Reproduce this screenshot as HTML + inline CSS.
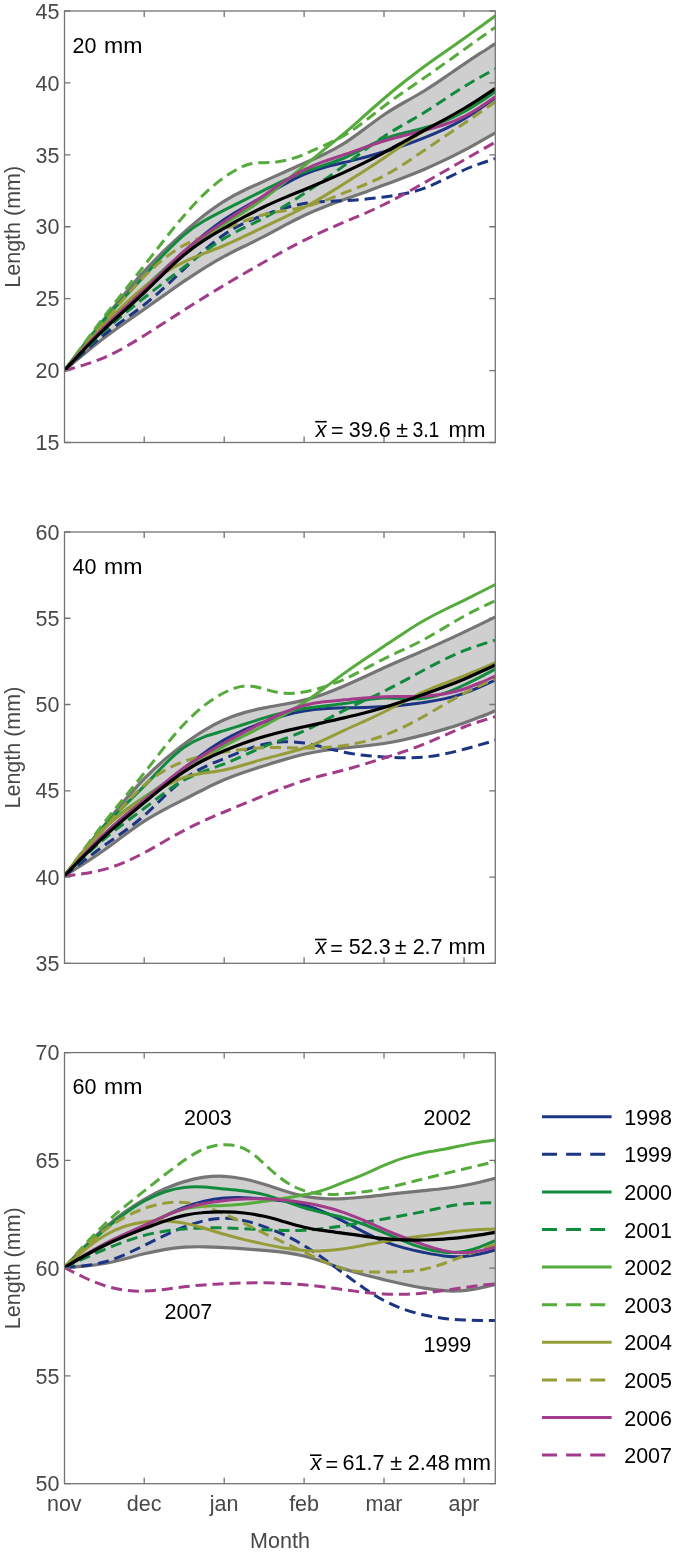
<!DOCTYPE html><html><head><meta charset="utf-8"><style>html,body{margin:0;padding:0;background:#fff;overflow:hidden;}svg{display:block;will-change:transform;}text{font-family:"Liberation Sans",sans-serif;}</style></head><body>
<svg width="675" height="1553" viewBox="0 0 675 1553">
<rect width="675" height="1553" fill="#fff"/>
<clipPath id="c0"><rect x="64.5" y="11.0" width="430.8" height="431.5"/></clipPath>
<g clip-path="url(#c0)">
<path d="M64.3,370.6 C71.0,361.9 77.6,353.2 84.3,344.5 C91.0,335.9 97.6,327.3 104.3,318.9 C111.0,310.5 117.6,302.2 124.3,294.2 C131.0,286.2 137.6,278.5 144.3,271.2 C151.0,264.0 157.6,257.2 164.2,250.7 C170.9,244.2 177.5,238.1 184.2,232.2 C190.9,226.3 197.5,220.6 204.2,215.3 C210.9,210.1 217.5,205.3 224.2,201.1 C230.9,196.9 237.5,193.4 244.2,190.2 C250.9,187.0 257.5,184.1 264.2,181.1 C270.8,178.1 277.5,175.2 284.1,172.2 C290.8,169.2 297.4,166.2 304.1,163.3 C310.8,160.4 317.4,157.5 324.1,154.3 C330.8,151.1 337.4,147.6 344.1,143.4 C350.8,139.2 357.4,134.2 364.1,129.2 C370.7,124.2 377.4,119.2 384.0,114.7 C390.7,110.2 397.3,106.3 404.0,102.5 C410.7,98.8 417.3,95.1 424.0,91.0 C430.7,86.9 437.3,82.5 444.0,77.9 C450.7,73.3 457.3,68.6 464.0,64.1 C469.2,60.6 474.4,57.1 479.6,53.7 C484.9,50.4 490.1,47.0 495.3,43.7 L495.3,132.8 C490.1,135.8 484.9,138.8 479.6,141.8 C474.4,144.7 469.2,147.6 464.0,150.4 C457.3,153.9 450.7,157.3 444.0,160.4 C437.3,163.6 430.7,166.6 424.0,169.4 C417.3,172.2 410.7,174.9 404.0,177.5 C397.3,180.1 390.7,182.6 384.0,185.1 C377.4,187.6 370.7,190.0 364.1,192.4 C357.4,194.8 350.8,197.2 344.1,199.6 C337.4,202.0 330.8,204.4 324.1,207.0 C317.4,209.6 310.8,212.4 304.1,215.5 C297.4,218.6 290.8,222.2 284.1,225.7 C277.5,229.3 270.8,233.0 264.2,236.4 C257.5,239.8 250.9,243.0 244.2,246.3 C237.5,249.5 230.9,252.8 224.2,256.4 C217.5,260.0 210.9,263.9 204.2,268.1 C197.5,272.3 190.9,276.7 184.2,281.2 C177.5,285.7 170.9,290.4 164.2,295.1 C157.6,299.8 151.0,304.5 144.3,309.2 C137.6,313.9 131.0,318.5 124.3,323.2 C117.6,327.9 111.0,332.7 104.3,337.8 C97.6,342.9 91.0,348.3 84.3,353.8 C77.6,359.3 71.0,364.9 64.3,370.6 Z" fill="#cfcfcf"/>
<path d="M64.3,370.6 C71.0,361.9 77.6,353.2 84.3,344.5 C91.0,335.9 97.6,327.3 104.3,318.9 C111.0,310.5 117.6,302.2 124.3,294.2 C131.0,286.2 137.6,278.5 144.3,271.2 C151.0,264.0 157.6,257.2 164.2,250.7 C170.9,244.2 177.5,238.1 184.2,232.2 C190.9,226.3 197.5,220.6 204.2,215.3 C210.9,210.1 217.5,205.3 224.2,201.1 C230.9,196.9 237.5,193.4 244.2,190.2 C250.9,187.0 257.5,184.1 264.2,181.1 C270.8,178.1 277.5,175.2 284.1,172.2 C290.8,169.2 297.4,166.2 304.1,163.3 C310.8,160.4 317.4,157.5 324.1,154.3 C330.8,151.1 337.4,147.6 344.1,143.4 C350.8,139.2 357.4,134.2 364.1,129.2 C370.7,124.2 377.4,119.2 384.0,114.7 C390.7,110.2 397.3,106.3 404.0,102.5 C410.7,98.8 417.3,95.1 424.0,91.0 C430.7,86.9 437.3,82.5 444.0,77.9 C450.7,73.3 457.3,68.6 464.0,64.1 C469.2,60.6 474.4,57.1 479.6,53.7 C484.9,50.4 490.1,47.0 495.3,43.7" fill="none" stroke="#757575" stroke-width="3.2"/>
<path d="M64.3,370.6 C71.0,364.9 77.6,359.3 84.3,353.8 C91.0,348.3 97.6,342.9 104.3,337.8 C111.0,332.7 117.6,327.9 124.3,323.2 C131.0,318.5 137.6,313.9 144.3,309.2 C151.0,304.5 157.6,299.8 164.2,295.1 C170.9,290.4 177.5,285.7 184.2,281.2 C190.9,276.7 197.5,272.3 204.2,268.1 C210.9,263.9 217.5,260.0 224.2,256.4 C230.9,252.8 237.5,249.5 244.2,246.3 C250.9,243.0 257.5,239.8 264.2,236.4 C270.8,233.0 277.5,229.3 284.1,225.7 C290.8,222.2 297.4,218.6 304.1,215.5 C310.8,212.4 317.4,209.6 324.1,207.0 C330.8,204.4 337.4,202.0 344.1,199.6 C350.8,197.2 357.4,194.8 364.1,192.4 C370.7,190.0 377.4,187.6 384.0,185.1 C390.7,182.6 397.3,180.1 404.0,177.5 C410.7,174.9 417.3,172.2 424.0,169.4 C430.7,166.6 437.3,163.6 444.0,160.4 C450.7,157.3 457.3,153.9 464.0,150.4 C469.2,147.6 474.4,144.7 479.6,141.8 C484.9,138.8 490.1,135.8 495.3,132.8" fill="none" stroke="#757575" stroke-width="3.2"/>
<path d="M64.3,370.6 C71.0,363.0 77.6,355.4 84.3,348.1 C91.0,340.7 97.6,333.6 104.3,327.0 C111.0,320.4 117.6,314.2 124.3,308.2 C131.0,302.1 137.6,296.2 144.3,290.0 C151.0,283.8 157.6,277.4 164.2,271.0 C170.9,264.6 177.5,258.1 184.2,252.0 C190.9,245.8 197.5,239.9 204.2,234.5 C210.9,229.0 217.5,223.9 224.2,219.4 C230.9,214.9 237.5,210.9 244.2,207.2 C250.9,203.4 257.5,199.8 264.2,196.0 C270.8,192.2 277.5,188.2 284.1,184.4 C290.8,180.7 297.4,177.1 304.1,174.3 C310.8,171.5 317.4,169.3 324.1,167.5 C330.8,165.6 337.4,164.1 344.1,162.5 C350.8,160.9 357.4,159.2 364.1,157.5 C370.7,155.7 377.4,153.8 384.0,151.8 C390.7,149.8 397.3,147.6 404.0,145.3 C410.7,143.0 417.3,140.5 424.0,137.9 C430.7,135.3 437.3,132.5 444.0,129.4 C450.7,126.4 457.3,122.9 464.0,119.0 C469.2,115.9 474.4,112.5 479.6,109.0 C484.9,105.4 490.1,101.7 495.3,98.0" fill="none" stroke="#1c3582" stroke-width="3.0"/>
<path d="M64.3,370.6 C71.0,364.3 77.6,357.9 84.3,351.8 C91.0,345.8 97.6,339.9 104.3,334.6 C111.0,329.3 117.6,324.5 124.3,319.6 C131.0,314.8 137.6,310.0 144.3,304.7 C151.0,299.4 157.6,293.6 164.2,287.6 C170.9,281.5 177.5,275.2 184.2,268.9 C190.9,262.6 197.5,256.2 204.2,250.4 C210.9,244.5 217.5,239.0 224.2,234.5 C230.9,230.0 237.5,226.3 244.2,223.2 C250.9,220.1 257.5,217.5 264.2,215.0 C270.8,212.5 277.5,210.2 284.1,208.3 C290.8,206.3 297.4,204.7 304.1,203.6 C310.8,202.5 317.4,202.0 324.1,201.6 C330.8,201.2 337.4,201.0 344.1,200.7 C350.8,200.4 357.4,199.9 364.1,199.2 C370.7,198.6 377.4,197.9 384.0,197.0 C390.7,196.1 397.3,195.2 404.0,193.8 C410.7,192.5 417.3,190.7 424.0,188.3 C430.7,185.9 437.3,182.7 444.0,179.5 C450.7,176.3 457.3,172.9 464.0,170.0 C469.2,167.7 474.4,165.7 479.6,163.9 C484.9,162.0 490.1,160.3 495.3,158.6" fill="none" stroke="#1c3582" stroke-width="3.0" stroke-dasharray="11.1 5.9"/>
<path d="M64.3,370.6 C71.0,361.9 77.6,353.1 84.3,344.6 C91.0,336.1 97.6,327.8 104.3,320.0 C111.0,312.2 117.6,304.8 124.3,297.6 C131.0,290.4 137.6,283.3 144.3,276.0 C151.0,268.7 157.6,261.2 164.2,254.1 C170.9,247.0 177.5,240.4 184.2,234.8 C190.9,229.2 197.5,224.7 204.2,220.8 C210.9,216.8 217.5,213.5 224.2,210.1 C230.9,206.7 237.5,203.4 244.2,200.1 C250.9,196.7 257.5,193.4 264.2,190.1 C270.8,186.8 277.5,183.5 284.1,180.4 C290.8,177.3 297.4,174.5 304.1,172.0 C310.8,169.5 317.4,167.5 324.1,165.3 C330.8,163.1 337.4,160.9 344.1,158.0 C350.8,155.1 357.4,151.7 364.1,148.3 C370.7,144.9 377.4,141.6 384.0,139.0 C390.7,136.4 397.3,134.6 404.0,132.9 C410.7,131.3 417.3,129.8 424.0,128.0 C430.7,126.2 437.3,124.0 444.0,121.3 C450.7,118.6 457.3,115.5 464.0,111.8 C469.2,108.9 474.4,105.6 479.6,102.2 C484.9,98.8 490.1,95.2 495.3,91.6" fill="none" stroke="#128a3e" stroke-width="3.0"/>
<path d="M64.3,370.6 C71.0,363.7 77.6,356.9 84.3,350.2 C91.0,343.6 97.6,337.1 104.3,331.0 C111.0,324.9 117.6,319.2 124.3,313.7 C131.0,308.2 137.6,302.9 144.3,297.7 C151.0,292.5 157.6,287.4 164.2,282.3 C170.9,277.2 177.5,272.1 184.2,267.0 C190.9,261.9 197.5,256.7 204.2,251.9 C210.9,247.0 217.5,242.4 224.2,238.4 C230.9,234.4 237.5,231.0 244.2,227.7 C250.9,224.5 257.5,221.3 264.2,217.8 C270.8,214.3 277.5,210.5 284.1,206.4 C290.8,202.3 297.4,198.0 304.1,193.6 C310.8,189.2 317.4,184.7 324.1,180.0 C330.8,175.4 337.4,170.6 344.1,165.6 C350.8,160.6 357.4,155.5 364.1,150.5 C370.7,145.6 377.4,140.7 384.0,136.4 C390.7,132.0 397.3,128.2 404.0,124.3 C410.7,120.5 417.3,116.8 424.0,112.7 C430.7,108.6 437.3,104.2 444.0,99.7 C450.7,95.3 457.3,90.8 464.0,86.7 C469.2,83.5 474.4,80.4 479.6,77.5 C484.9,74.6 490.1,71.7 495.3,68.9" fill="none" stroke="#128a3e" stroke-width="3.0" stroke-dasharray="11.1 5.9"/>
<path d="M64.3,370.6 C71.0,362.4 77.6,354.2 84.3,346.3 C91.0,338.5 97.6,330.9 104.3,324.0 C111.0,317.1 117.6,310.8 124.3,304.8 C131.0,298.7 137.6,292.9 144.3,287.0 C151.0,281.1 157.6,275.0 164.2,269.0 C170.9,263.1 177.5,257.3 184.2,252.0 C190.9,246.7 197.5,241.8 204.2,237.2 C210.9,232.6 217.5,228.3 224.2,224.2 C230.9,220.1 237.5,216.0 244.2,211.9 C250.9,207.7 257.5,203.3 264.2,198.4 C270.8,193.5 277.5,188.1 284.1,182.6 C290.8,177.1 297.4,171.4 304.1,165.9 C310.8,160.4 317.4,155.1 324.1,149.7 C330.8,144.4 337.4,139.0 344.1,133.4 C350.8,127.8 357.4,121.9 364.1,116.0 C370.7,110.1 377.4,104.2 384.0,98.5 C390.7,92.8 397.3,87.3 404.0,82.0 C410.7,76.7 417.3,71.6 424.0,66.7 C430.7,61.8 437.3,57.1 444.0,52.5 C450.7,47.8 457.3,43.2 464.0,38.5 C469.2,34.8 474.4,31.0 479.6,27.3 C484.9,23.5 490.1,19.6 495.3,15.8" fill="none" stroke="#55ab3c" stroke-width="3.0"/>
<path d="M64.3,370.6 C71.0,361.4 77.6,352.3 84.3,343.2 C91.0,334.2 97.6,325.2 104.3,316.5 C111.0,307.8 117.6,299.3 124.3,290.9 C131.0,282.4 137.6,274.0 144.3,265.5 C151.0,257.0 157.6,248.4 164.2,239.9 C170.9,231.5 177.5,223.2 184.2,215.5 C188.2,210.9 192.2,206.4 196.1,202.2 C200.1,198.0 204.1,194.1 208.1,190.4 C210.3,188.4 212.6,186.4 214.8,184.6 C217.0,182.7 219.3,181.0 221.5,179.3 C223.9,177.5 226.3,175.9 228.7,174.3 C231.1,172.8 233.5,171.3 235.9,170.0 C238.2,168.7 240.6,167.5 242.9,166.4 C245.3,165.4 247.7,164.6 250.0,164.0 C253.2,163.2 256.4,162.9 259.6,162.8 C262.8,162.7 266.0,162.7 269.2,162.6 C272.1,162.5 274.9,162.2 277.8,161.8 C280.6,161.4 283.4,160.9 286.3,160.2 C289.0,159.6 291.7,158.8 294.4,157.9 C297.0,157.1 299.7,156.1 302.4,155.0 C304.7,154.1 307.1,153.0 309.4,152.0 C311.7,150.9 314.1,149.8 316.4,148.8 C321.0,146.7 325.6,144.8 330.2,142.6 C334.9,140.5 339.5,138.2 344.1,135.5 C350.8,131.6 357.4,126.8 364.1,121.7 C370.7,116.6 377.4,111.3 384.0,106.2 C390.7,101.1 397.3,96.4 404.0,91.8 C410.7,87.1 417.3,82.6 424.0,78.0 C430.7,73.4 437.3,68.7 444.0,63.9 C450.7,59.2 457.3,54.4 464.0,49.6 C469.2,45.9 474.4,42.1 479.6,38.4 C484.9,34.7 490.1,30.9 495.3,27.2" fill="none" stroke="#55ab3c" stroke-width="3.0" stroke-dasharray="11.1 5.9"/>
<path d="M64.3,370.6 C71.0,362.8 77.6,354.9 84.3,347.3 C91.0,339.6 97.6,332.1 104.3,325.0 C111.0,317.9 117.6,311.1 124.3,304.8 C131.0,298.5 137.6,292.6 144.3,287.3 C151.0,282.0 157.6,277.2 164.2,273.0 C170.9,268.7 177.5,265.0 184.2,261.8 C190.9,258.6 197.5,255.9 204.2,253.3 C210.9,250.8 217.5,248.3 224.2,245.5 C230.9,242.7 237.5,239.6 244.2,236.4 C250.9,233.3 257.5,230.0 264.2,226.8 C270.8,223.6 277.5,220.6 284.1,217.4 C290.8,214.3 297.4,211.0 304.1,207.5 C310.8,203.9 317.4,200.1 324.1,196.1 C330.8,192.0 337.4,187.9 344.1,183.7 C350.8,179.5 357.4,175.4 364.1,171.1 C370.7,166.9 377.4,162.5 384.0,158.0 C390.7,153.4 397.3,148.7 404.0,144.1 C410.7,139.5 417.3,135.0 424.0,131.0 C430.7,127.0 437.3,123.5 444.0,120.0 C450.7,116.5 457.3,113.0 464.0,109.0 C469.2,105.9 474.4,102.5 479.6,98.9 C484.9,95.4 490.1,91.7 495.3,88.0" fill="none" stroke="#969c38" stroke-width="3.0"/>
<path d="M64.3,370.6 C71.0,362.5 77.6,354.4 84.3,346.3 C91.0,338.2 97.6,330.1 104.3,322.0 C111.0,313.9 117.6,305.9 124.3,298.2 C131.0,290.5 137.6,283.1 144.3,276.4 C151.0,269.7 157.6,263.7 164.2,258.5 C170.9,253.2 177.5,248.7 184.2,245.1 C190.9,241.5 197.5,238.7 204.2,236.2 C210.9,233.7 217.5,231.5 224.2,229.0 C230.9,226.5 237.5,223.7 244.2,221.2 C250.9,218.6 257.5,216.2 264.2,214.5 C270.8,212.8 277.5,211.7 284.1,210.7 C290.8,209.7 297.4,208.7 304.1,207.1 C310.8,205.5 317.4,203.3 324.1,200.8 C330.8,198.3 337.4,195.5 344.1,192.9 C350.8,190.3 357.4,187.7 364.1,185.0 C370.7,182.3 377.4,179.3 384.0,175.8 C390.7,172.3 397.3,168.2 404.0,163.9 C410.7,159.6 417.3,155.0 424.0,150.5 C430.7,146.0 437.3,141.5 444.0,137.0 C450.7,132.4 457.3,127.9 464.0,123.4 C469.2,119.8 474.4,116.3 479.6,112.7 C484.9,109.1 490.1,105.5 495.3,101.9" fill="none" stroke="#969c38" stroke-width="3.0" stroke-dasharray="11.1 5.9"/>
<path d="M64.3,370.6 C71.0,363.0 77.6,355.4 84.3,348.0 C91.0,340.7 97.6,333.6 104.3,327.0 C111.0,320.4 117.6,314.4 124.3,308.3 C131.0,302.3 137.6,296.3 144.3,289.9 C151.0,283.5 157.6,276.7 164.2,270.0 C170.9,263.3 177.5,256.7 184.2,250.9 C190.9,245.1 197.5,239.9 204.2,235.2 C210.9,230.4 217.5,226.1 224.2,221.7 C230.9,217.3 237.5,213.0 244.2,208.6 C250.9,204.2 257.5,199.8 264.2,195.2 C270.8,190.6 277.5,186.0 284.1,181.6 C290.8,177.2 297.4,173.2 304.1,169.8 C310.8,166.4 317.4,163.8 324.1,161.4 C330.8,159.0 337.4,157.0 344.1,154.7 C350.8,152.5 357.4,150.0 364.1,147.7 C370.7,145.3 377.4,143.0 384.0,141.0 C390.7,139.0 397.3,137.2 404.0,135.5 C410.7,133.8 417.3,132.2 424.0,130.5 C430.7,128.8 437.3,127.0 444.0,124.8 C450.7,122.6 457.3,120.0 464.0,116.6 C469.2,113.9 474.4,110.8 479.6,107.4 C484.9,104.0 490.1,100.4 495.3,96.8" fill="none" stroke="#a23c8a" stroke-width="3.0"/>
<path d="M64.3,370.6 C71.0,368.8 77.6,367.0 84.3,364.9 C91.0,362.8 97.6,360.5 104.3,357.6 C111.0,354.7 117.6,351.3 124.3,347.5 C131.0,343.7 137.6,339.7 144.3,335.5 C151.0,331.3 157.6,327.1 164.2,322.8 C170.9,318.5 177.5,314.2 184.2,310.0 C190.9,305.7 197.5,301.5 204.2,297.4 C210.9,293.3 217.5,289.2 224.2,285.2 C230.9,281.2 237.5,277.3 244.2,273.5 C250.9,269.6 257.5,265.8 264.2,262.0 C270.8,258.2 277.5,254.5 284.1,250.8 C290.8,247.2 297.4,243.6 304.1,240.3 C310.8,237.0 317.4,233.9 324.1,230.9 C330.8,227.9 337.4,225.0 344.1,222.2 C350.8,219.4 357.4,216.6 364.1,213.7 C370.7,210.8 377.4,207.8 384.0,204.5 C390.7,201.2 397.3,197.7 404.0,194.1 C410.7,190.5 417.3,186.7 424.0,182.9 C430.7,179.1 437.3,175.3 444.0,171.5 C450.7,167.7 457.3,163.8 464.0,160.0 C469.2,157.0 474.4,154.0 479.6,151.0 C484.9,148.1 490.1,145.1 495.3,142.1" fill="none" stroke="#a23c8a" stroke-width="3.0" stroke-dasharray="11.1 5.9"/>
<path d="M64.3,370.6 C71.0,363.4 77.6,356.3 84.3,349.3 C91.0,342.4 97.6,335.6 104.3,329.2 C111.0,322.8 117.6,316.8 124.3,310.8 C131.0,304.8 137.6,298.8 144.3,292.5 C151.0,286.2 157.6,279.5 164.2,273.0 C170.9,266.6 177.5,260.3 184.2,254.8 C190.9,249.3 197.5,244.5 204.2,240.2 C210.9,235.8 217.5,231.9 224.2,228.1 C230.9,224.3 237.5,220.5 244.2,216.9 C250.9,213.4 257.5,210.0 264.2,206.8 C270.8,203.6 277.5,200.7 284.1,197.9 C290.8,195.1 297.4,192.4 304.1,189.7 C310.8,187.0 317.4,184.2 324.1,181.3 C330.8,178.4 337.4,175.5 344.1,172.4 C350.8,169.3 357.4,166.2 364.1,162.9 C370.7,159.6 377.4,156.2 384.0,152.6 C390.7,149.0 397.3,145.3 404.0,141.6 C410.7,137.9 417.3,134.1 424.0,130.5 C430.7,126.9 437.3,123.4 444.0,119.8 C450.7,116.2 457.3,112.5 464.0,108.5 C469.2,105.4 474.4,102.1 479.6,98.8 C484.9,95.4 490.1,91.9 495.3,88.5" fill="none" stroke="#000" stroke-width="3.2"/>
</g>
<rect x="64.5" y="11.0" width="430.8" height="431.5" fill="none" stroke="#747474" stroke-width="1.3"/>
<text x="59.5" y="450.20" font-size="21.5" fill="#474747" text-anchor="end">15</text>
<text x="59.5" y="378.28" font-size="21.5" fill="#474747" text-anchor="end">20</text>
<text x="59.5" y="306.37" font-size="21.5" fill="#474747" text-anchor="end">25</text>
<text x="59.5" y="234.45" font-size="21.5" fill="#474747" text-anchor="end">30</text>
<text x="59.5" y="162.53" font-size="21.5" fill="#474747" text-anchor="end">35</text>
<text x="59.5" y="90.62" font-size="21.5" fill="#474747" text-anchor="end">40</text>
<text x="59.5" y="18.70" font-size="21.5" fill="#474747" text-anchor="end">45</text>
<path d="M64.5,442.50h6M495.3,442.50h-6M64.5,370.58h6M495.3,370.58h-6M64.5,298.67h6M495.3,298.67h-6M64.5,226.75h6M495.3,226.75h-6M64.5,154.83h6M495.3,154.83h-6M64.5,82.92h6M495.3,82.92h-6M64.5,11.00h6M495.3,11.00h-6M144.2,442.5v-6M144.2,11.0v6M224.2,442.5v-6M224.2,11.0v6M304.1,442.5v-6M304.1,11.0v6M384.0,442.5v-6M384.0,11.0v6M464.0,442.5v-6M464.0,11.0v6" stroke="#747474" stroke-width="1.3" fill="none"/>
<text transform="translate(19.5,226.8) rotate(-90)" font-size="21.5" fill="#474747" text-anchor="middle">Length (mm)</text>
<text x="72.5" y="52.8" font-size="21.5" fill="#000">20</text>
<text x="104" y="52.8" font-size="21.5" fill="#000" textLength="38.5" lengthAdjust="spacingAndGlyphs">mm</text>
<text x="321.2" y="436.5" font-size="21.5" fill="#000" text-anchor="middle" font-style="italic">x</text>
<text x="337.3" y="436.5" font-size="21.5" fill="#000" text-anchor="middle" dy="1.8">=</text>
<text x="369.8" y="436.5" font-size="21.5" fill="#000" text-anchor="middle">39.6</text>
<text x="402.1" y="436.5" font-size="21.5" fill="#000" text-anchor="middle">±</text>
<text x="425.9" y="436.5" font-size="21.5" fill="#000" text-anchor="middle" textLength="27" lengthAdjust="spacingAndGlyphs">3.1</text>
<text x="467.0" y="436.5" font-size="21.5" fill="#000" text-anchor="middle" textLength="37" lengthAdjust="spacingAndGlyphs">mm</text>
<path d="M315.2,421.7h11.5" stroke="#000" stroke-width="1.6"/>
<clipPath id="c1"><rect x="64.5" y="532.0" width="430.8" height="431.3"/></clipPath>
<g clip-path="url(#c1)">
<path d="M64.3,876.0 C71.0,867.5 77.6,859.0 84.3,850.5 C91.0,842.0 97.6,833.6 104.3,825.3 C111.0,817.0 117.6,808.8 124.3,800.9 C131.0,793.1 137.6,785.6 144.3,778.7 C151.0,771.9 157.6,765.6 164.2,759.9 C170.9,754.2 177.5,748.9 184.2,744.0 C190.9,739.1 197.5,734.5 204.2,730.4 C210.9,726.3 217.5,722.8 224.2,719.8 C230.9,716.8 237.5,714.5 244.2,712.6 C250.9,710.7 257.5,709.2 264.2,707.9 C270.8,706.6 277.5,705.5 284.1,704.3 C290.8,703.1 297.4,701.8 304.1,700.1 C310.8,698.4 317.4,696.3 324.1,693.9 C330.8,691.5 337.4,688.9 344.1,686.0 C350.8,683.1 357.4,680.1 364.1,677.0 C370.7,673.9 377.4,670.8 384.0,667.8 C390.7,664.8 397.3,661.9 404.0,659.0 C410.7,656.2 417.3,653.3 424.0,650.4 C430.7,647.5 437.3,644.5 444.0,641.4 C450.7,638.4 457.3,635.3 464.0,632.1 C469.2,629.6 474.4,627.1 479.6,624.6 C484.9,622.0 490.1,619.5 495.3,616.9 L495.3,710.8 C490.1,712.9 484.9,715.1 479.6,717.1 C474.4,719.2 469.2,721.2 464.0,723.0 C457.3,725.4 450.7,727.5 444.0,729.4 C437.3,731.4 430.7,733.2 424.0,734.9 C417.3,736.6 410.7,738.2 404.0,739.7 C397.3,741.2 390.7,742.5 384.0,743.5 C377.4,744.5 370.7,745.3 364.1,746.0 C357.4,746.7 350.8,747.3 344.1,748.0 C337.4,748.7 330.8,749.5 324.1,750.5 C317.4,751.5 310.8,752.7 304.1,754.2 C297.4,755.7 290.8,757.6 284.1,759.6 C277.5,761.5 270.8,763.7 264.2,765.8 C257.5,767.9 250.9,770.0 244.2,772.3 C237.5,774.5 230.9,777.0 224.2,779.8 C217.5,782.6 210.9,785.8 204.2,789.2 C197.5,792.5 190.9,796.0 184.2,799.4 C177.5,802.8 170.9,806.1 164.2,809.6 C157.6,813.2 151.0,816.9 144.3,821.2 C137.6,825.5 131.0,830.3 124.3,835.3 C117.6,840.2 111.0,845.3 104.3,850.0 C97.6,854.7 91.0,859.2 84.3,863.5 C77.6,867.7 71.0,871.9 64.3,876.0 Z" fill="#cfcfcf"/>
<path d="M64.3,876.0 C71.0,867.5 77.6,859.0 84.3,850.5 C91.0,842.0 97.6,833.6 104.3,825.3 C111.0,817.0 117.6,808.8 124.3,800.9 C131.0,793.1 137.6,785.6 144.3,778.7 C151.0,771.9 157.6,765.6 164.2,759.9 C170.9,754.2 177.5,748.9 184.2,744.0 C190.9,739.1 197.5,734.5 204.2,730.4 C210.9,726.3 217.5,722.8 224.2,719.8 C230.9,716.8 237.5,714.5 244.2,712.6 C250.9,710.7 257.5,709.2 264.2,707.9 C270.8,706.6 277.5,705.5 284.1,704.3 C290.8,703.1 297.4,701.8 304.1,700.1 C310.8,698.4 317.4,696.3 324.1,693.9 C330.8,691.5 337.4,688.9 344.1,686.0 C350.8,683.1 357.4,680.1 364.1,677.0 C370.7,673.9 377.4,670.8 384.0,667.8 C390.7,664.8 397.3,661.9 404.0,659.0 C410.7,656.2 417.3,653.3 424.0,650.4 C430.7,647.5 437.3,644.5 444.0,641.4 C450.7,638.4 457.3,635.3 464.0,632.1 C469.2,629.6 474.4,627.1 479.6,624.6 C484.9,622.0 490.1,619.5 495.3,616.9" fill="none" stroke="#757575" stroke-width="3.2"/>
<path d="M64.3,876.0 C71.0,871.9 77.6,867.7 84.3,863.5 C91.0,859.2 97.6,854.7 104.3,850.0 C111.0,845.3 117.6,840.2 124.3,835.3 C131.0,830.3 137.6,825.5 144.3,821.2 C151.0,816.9 157.6,813.2 164.2,809.6 C170.9,806.1 177.5,802.8 184.2,799.4 C190.9,796.0 197.5,792.5 204.2,789.2 C210.9,785.8 217.5,782.6 224.2,779.8 C230.9,777.0 237.5,774.5 244.2,772.3 C250.9,770.0 257.5,767.9 264.2,765.8 C270.8,763.7 277.5,761.5 284.1,759.6 C290.8,757.6 297.4,755.7 304.1,754.2 C310.8,752.7 317.4,751.5 324.1,750.5 C330.8,749.5 337.4,748.7 344.1,748.0 C350.8,747.3 357.4,746.7 364.1,746.0 C370.7,745.3 377.4,744.5 384.0,743.5 C390.7,742.5 397.3,741.2 404.0,739.7 C410.7,738.2 417.3,736.6 424.0,734.9 C430.7,733.2 437.3,731.4 444.0,729.4 C450.7,727.5 457.3,725.4 464.0,723.0 C469.2,721.2 474.4,719.2 479.6,717.1 C484.9,715.1 490.1,712.9 495.3,710.8" fill="none" stroke="#757575" stroke-width="3.2"/>
<path d="M64.3,876.0 C71.0,868.7 77.6,861.3 84.3,854.2 C91.0,847.2 97.6,840.3 104.3,834.0 C111.0,827.7 117.6,821.9 124.3,816.3 C131.0,810.7 137.6,805.4 144.3,800.0 C151.0,794.6 157.6,789.2 164.2,783.9 C170.9,778.5 177.5,773.2 184.2,768.0 C190.9,762.8 197.5,757.7 204.2,752.9 C210.9,748.2 217.5,743.8 224.2,739.9 C230.9,736.0 237.5,732.8 244.2,729.8 C250.9,726.9 257.5,724.4 264.2,722.0 C270.8,719.6 277.5,717.5 284.1,715.6 C290.8,713.7 297.4,712.1 304.1,711.0 C310.8,709.9 317.4,709.1 324.1,708.7 C330.8,708.2 337.4,708.0 344.1,707.8 C350.8,707.6 357.4,707.5 364.1,707.4 C370.7,707.2 377.4,707.0 384.0,706.6 C390.7,706.2 397.3,705.7 404.0,704.9 C410.7,704.2 417.3,703.4 424.0,702.4 C430.7,701.4 437.3,700.3 444.0,698.9 C450.7,697.5 457.3,695.7 464.0,693.4 C469.2,691.6 474.4,689.5 479.6,687.2 C484.9,684.9 490.1,682.5 495.3,680.0" fill="none" stroke="#1c3582" stroke-width="3.0"/>
<path d="M64.3,876.0 C71.0,870.8 77.6,865.5 84.3,860.4 C91.0,855.3 97.6,850.3 104.3,845.5 C111.0,840.7 117.6,836.1 124.3,831.3 C131.0,826.4 137.6,821.3 144.3,815.4 C151.0,809.5 157.6,802.9 164.2,796.5 C170.9,790.1 177.5,784.0 184.2,779.0 C190.9,774.0 197.5,770.3 204.2,767.1 C210.9,763.9 217.5,761.2 224.2,758.5 C230.9,755.8 237.5,753.0 244.2,750.4 C250.9,747.9 257.5,745.7 264.2,744.2 C270.8,742.7 277.5,741.9 284.1,741.7 C290.8,741.5 297.4,742.0 304.1,743.0 C310.8,744.0 317.4,745.6 324.1,747.3 C330.8,749.0 337.4,750.8 344.1,752.2 C350.8,753.6 357.4,754.6 364.1,755.3 C370.7,756.1 377.4,756.6 384.0,757.0 C390.7,757.4 397.3,757.8 404.0,757.8 C410.7,757.9 417.3,757.7 424.0,757.1 C430.7,756.5 437.3,755.4 444.0,754.1 C450.7,752.7 457.3,751.1 464.0,749.3 C469.2,747.9 474.4,746.4 479.6,744.9 C484.9,743.4 490.1,741.9 495.3,740.3" fill="none" stroke="#1c3582" stroke-width="3.0" stroke-dasharray="11.1 5.9"/>
<path d="M64.3,876.0 C71.0,867.2 77.6,858.3 84.3,849.9 C91.0,841.4 97.6,833.3 104.3,826.0 C111.0,818.7 117.6,812.1 124.3,805.6 C131.0,799.2 137.6,792.8 144.3,786.0 C151.0,779.2 157.6,771.8 164.2,765.0 C170.9,758.2 177.5,751.9 184.2,747.2 C190.9,742.5 197.5,739.3 204.2,736.8 C210.9,734.4 217.5,732.6 224.2,730.6 C230.9,728.6 237.5,726.4 244.2,724.3 C250.9,722.1 257.5,719.9 264.2,717.9 C270.8,715.9 277.5,714.1 284.1,712.5 C290.8,711.0 297.4,709.6 304.1,708.6 C310.8,707.6 317.4,706.8 324.1,706.1 C330.8,705.3 337.4,704.6 344.1,703.6 C350.8,702.6 357.4,701.3 364.1,700.2 C370.7,699.1 377.4,698.2 384.0,698.0 C390.7,697.8 397.3,698.2 404.0,698.6 C410.7,698.9 417.3,699.1 424.0,698.3 C430.7,697.5 437.3,695.8 444.0,693.4 C450.7,691.1 457.3,688.2 464.0,685.0 C469.2,682.5 474.4,679.9 479.6,677.3 C484.9,674.6 490.1,671.8 495.3,669.1" fill="none" stroke="#128a3e" stroke-width="3.0"/>
<path d="M64.3,876.0 C71.0,869.5 77.6,863.0 84.3,856.7 C91.0,850.4 97.6,844.4 104.3,838.8 C111.0,833.2 117.6,828.1 124.3,823.2 C131.0,818.2 137.6,813.4 144.3,808.3 C151.0,803.3 157.6,798.0 164.2,793.1 C170.9,788.2 177.5,783.6 184.2,780.0 C190.9,776.4 197.5,773.6 204.2,771.2 C210.9,768.7 217.5,766.5 224.2,763.9 C230.9,761.3 237.5,758.3 244.2,755.3 C250.9,752.3 257.5,749.2 264.2,746.5 C270.8,743.8 277.5,741.4 284.1,739.0 C290.8,736.5 297.4,734.0 304.1,731.0 C310.8,728.0 317.4,724.5 324.1,720.9 C330.8,717.4 337.4,713.7 344.1,710.3 C350.8,706.9 357.4,703.8 364.1,700.7 C370.7,697.6 377.4,694.6 384.0,691.3 C390.7,688.0 397.3,684.5 404.0,680.9 C410.7,677.3 417.3,673.6 424.0,670.0 C430.7,666.4 437.3,662.9 444.0,659.6 C450.7,656.4 457.3,653.4 464.0,650.7 C469.2,648.6 474.4,646.8 479.6,645.1 C484.9,643.3 490.1,641.7 495.3,640.1" fill="none" stroke="#128a3e" stroke-width="3.0" stroke-dasharray="11.1 5.9"/>
<path d="M64.3,876.0 C71.0,867.3 77.6,858.6 84.3,850.4 C91.0,842.2 97.6,834.6 104.3,828.0 C111.0,821.4 117.6,816.0 124.3,811.0 C131.0,806.0 137.6,801.5 144.3,797.0 C151.0,792.5 157.6,787.9 164.2,783.4 C170.9,778.8 177.5,774.3 184.2,770.0 C190.9,765.7 197.5,761.5 204.2,757.5 C210.9,753.5 217.5,749.7 224.2,746.1 C230.9,742.5 237.5,739.1 244.2,735.7 C250.9,732.4 257.5,729.0 264.2,725.6 C270.8,722.2 277.5,718.6 284.1,714.8 C290.8,711.0 297.4,707.0 304.1,702.5 C310.8,698.0 317.4,693.2 324.1,688.2 C330.8,683.3 337.4,678.2 344.1,673.4 C350.8,668.6 357.4,664.0 364.1,659.5 C370.7,655.1 377.4,650.7 384.0,646.2 C390.7,641.7 397.3,637.2 404.0,632.9 C410.7,628.5 417.3,624.3 424.0,620.5 C430.7,616.7 437.3,613.3 444.0,610.0 C450.7,606.7 457.3,603.6 464.0,600.3 C469.2,597.8 474.4,595.1 479.6,592.5 C484.9,589.9 490.1,587.2 495.3,584.5" fill="none" stroke="#55ab3c" stroke-width="3.0"/>
<path d="M64.3,876.0 C71.0,866.9 77.6,857.7 84.3,848.8 C91.0,839.8 97.6,831.0 104.3,822.5 C111.0,814.0 117.6,805.8 124.3,797.6 C131.0,789.5 137.6,781.3 144.3,772.9 C151.0,764.5 157.6,755.8 164.2,747.4 C170.9,739.1 177.5,731.1 184.2,724.0 C191.3,716.5 198.3,710.0 205.4,704.6 C212.5,699.2 219.5,694.8 226.6,691.5 C229.3,690.2 232.1,689.0 234.8,688.1 C237.6,687.3 240.3,686.6 243.1,686.3 C245.9,686.0 248.6,686.0 251.4,686.3 C254.2,686.6 256.9,687.1 259.7,687.8 C262.6,688.5 265.4,689.3 268.3,690.1 C271.2,690.9 274.0,691.6 276.9,692.2 C279.7,692.8 282.5,693.1 285.4,693.3 C288.2,693.5 291.0,693.5 293.8,693.3 C296.5,693.1 299.2,692.8 302.0,692.3 C304.7,691.9 307.4,691.3 310.1,690.7 C315.8,689.4 321.4,687.8 327.1,685.9 C332.8,684.0 338.4,681.8 344.1,679.3 C350.8,676.3 357.4,672.9 364.1,669.3 C370.7,665.8 377.4,662.1 384.0,658.8 C390.7,655.5 397.3,652.4 404.0,649.3 C410.7,646.2 417.3,643.1 424.0,639.5 C430.7,635.9 437.3,631.9 444.0,627.9 C450.7,623.9 457.3,619.9 464.0,616.2 C469.2,613.3 474.4,610.7 479.6,608.1 C484.9,605.6 490.1,603.1 495.3,600.7" fill="none" stroke="#55ab3c" stroke-width="3.0" stroke-dasharray="11.1 5.9"/>
<path d="M64.3,876.0 C71.0,867.3 77.6,858.7 84.3,850.5 C91.0,842.4 97.6,834.9 104.3,828.4 C111.0,821.9 117.6,816.6 124.3,811.8 C131.0,807.0 137.6,802.8 144.3,798.6 C151.0,794.4 157.6,790.2 164.2,786.6 C170.9,782.9 177.5,779.7 184.2,777.5 C190.9,775.3 197.5,774.1 204.2,773.1 C210.9,772.1 217.5,771.3 224.2,770.0 C230.9,768.7 237.5,766.8 244.2,764.8 C250.9,762.9 257.5,760.7 264.2,758.9 C270.8,757.1 277.5,755.5 284.1,753.8 C290.8,752.1 297.4,750.3 304.1,748.0 C310.8,745.7 317.4,742.8 324.1,739.8 C330.8,736.7 337.4,733.5 344.1,730.4 C350.8,727.3 357.4,724.4 364.1,721.4 C370.7,718.4 377.4,715.3 384.0,712.0 C390.7,708.7 397.3,705.1 404.0,701.6 C410.7,698.1 417.3,694.6 424.0,691.6 C430.7,688.6 437.3,685.9 444.0,683.4 C450.7,680.9 457.3,678.5 464.0,675.9 C469.2,673.9 474.4,671.7 479.6,669.5 C484.9,667.3 490.1,665.0 495.3,662.7" fill="none" stroke="#969c38" stroke-width="3.0"/>
<path d="M64.3,876.0 C71.0,868.1 77.6,860.1 84.3,852.2 C91.0,844.3 97.6,836.3 104.3,828.4 C111.0,820.5 117.6,812.5 124.3,805.1 C131.0,797.7 137.6,790.9 144.3,785.1 C151.0,779.3 157.6,774.6 164.2,770.7 C170.9,766.9 177.5,763.8 184.2,761.4 C190.9,759.0 197.5,757.1 204.2,755.7 C210.9,754.2 217.5,753.0 224.2,752.0 C230.9,751.0 237.5,750.0 244.2,749.3 C250.9,748.5 257.5,747.9 264.2,747.7 C270.8,747.5 277.5,747.5 284.1,747.6 C290.8,747.8 297.4,748.0 304.1,748.0 C310.8,748.0 317.4,747.9 324.1,747.5 C330.8,747.1 337.4,746.5 344.1,745.5 C350.8,744.5 357.4,743.2 364.1,741.6 C370.7,739.9 377.4,737.9 384.0,735.4 C390.7,732.9 397.3,730.0 404.0,726.8 C410.7,723.6 417.3,720.1 424.0,716.3 C430.7,712.5 437.3,708.5 444.0,704.6 C450.7,700.7 457.3,696.9 464.0,693.4 C469.2,690.7 474.4,688.2 479.6,685.8 C484.9,683.4 490.1,681.2 495.3,678.9" fill="none" stroke="#969c38" stroke-width="3.0" stroke-dasharray="11.1 5.9"/>
<path d="M64.3,876.0 C71.0,868.6 77.6,861.3 84.3,854.2 C91.0,847.1 97.6,840.3 104.3,834.0 C111.0,827.7 117.6,821.9 124.3,816.4 C131.0,810.8 137.6,805.4 144.3,799.9 C151.0,794.4 157.6,788.8 164.2,783.3 C170.9,777.9 177.5,772.6 184.2,767.8 C190.9,763.0 197.5,758.6 204.2,754.6 C210.9,750.5 217.5,746.7 224.2,743.0 C230.9,739.3 237.5,735.6 244.2,732.1 C250.9,728.6 257.5,725.1 264.2,721.8 C270.8,718.5 277.5,715.3 284.1,712.5 C290.8,709.7 297.4,707.3 304.1,705.5 C310.8,703.7 317.4,702.6 324.1,701.8 C330.8,700.9 337.4,700.4 344.1,699.8 C350.8,699.2 357.4,698.5 364.1,698.0 C370.7,697.4 377.4,696.9 384.0,696.7 C390.7,696.5 397.3,696.5 404.0,696.6 C410.7,696.6 417.3,696.6 424.0,696.2 C430.7,695.8 437.3,695.1 444.0,694.0 C450.7,692.8 457.3,691.2 464.0,689.0 C469.2,687.3 474.4,685.2 479.6,683.0 C484.9,680.8 490.1,678.4 495.3,676.0" fill="none" stroke="#a23c8a" stroke-width="3.0"/>
<path d="M64.3,876.0 C71.0,875.3 77.6,874.5 84.3,873.5 C91.0,872.5 97.6,871.2 104.3,869.4 C111.0,867.6 117.6,865.2 124.3,862.3 C131.0,859.5 137.6,856.3 144.3,852.7 C151.0,849.2 157.6,845.3 164.2,841.5 C170.9,837.6 177.5,833.8 184.2,830.3 C190.9,826.8 197.5,823.6 204.2,820.6 C210.9,817.6 217.5,814.8 224.2,812.0 C230.9,809.2 237.5,806.4 244.2,803.7 C250.9,801.0 257.5,798.2 264.2,795.5 C270.8,792.8 277.5,790.1 284.1,787.5 C290.8,785.0 297.4,782.6 304.1,780.5 C310.8,778.4 317.4,776.7 324.1,775.0 C330.8,773.4 337.4,771.8 344.1,770.0 C350.8,768.2 357.4,766.3 364.1,764.3 C370.7,762.2 377.4,760.1 384.0,758.0 C390.7,755.9 397.3,753.8 404.0,751.5 C410.7,749.3 417.3,746.9 424.0,744.2 C430.7,741.5 437.3,738.5 444.0,735.5 C450.7,732.5 457.3,729.6 464.0,727.0 C469.2,725.0 474.4,723.2 479.6,721.5 C484.9,719.8 490.1,718.2 495.3,716.6" fill="none" stroke="#a23c8a" stroke-width="3.0" stroke-dasharray="11.1 5.9"/>
<path d="M64.3,876.0 C71.0,869.2 77.6,862.4 84.3,855.7 C91.0,849.1 97.6,842.6 104.3,836.5 C111.0,830.4 117.6,824.6 124.3,819.0 C131.0,813.4 137.6,808.0 144.3,802.5 C151.0,797.0 157.6,791.5 164.2,786.3 C170.9,781.1 177.5,776.1 184.2,771.7 C190.9,767.3 197.5,763.4 204.2,760.0 C210.9,756.6 217.5,753.5 224.2,750.7 C230.9,747.9 237.5,745.3 244.2,742.9 C250.9,740.6 257.5,738.4 264.2,736.5 C270.8,734.6 277.5,732.9 284.1,731.3 C290.8,729.7 297.4,728.3 304.1,726.8 C310.8,725.3 317.4,723.9 324.1,722.4 C330.8,720.9 337.4,719.5 344.1,717.9 C350.8,716.4 357.4,714.7 364.1,713.0 C370.7,711.3 377.4,709.5 384.0,707.5 C390.7,705.5 397.3,703.4 404.0,701.1 C410.7,698.9 417.3,696.5 424.0,694.2 C430.7,691.9 437.3,689.5 444.0,687.0 C450.7,684.6 457.3,682.0 464.0,679.2 C469.2,677.0 474.4,674.7 479.6,672.3 C484.9,669.9 490.1,667.5 495.3,665.0" fill="none" stroke="#000" stroke-width="3.2"/>
</g>
<rect x="64.5" y="532.0" width="430.8" height="431.3" fill="none" stroke="#747474" stroke-width="1.3"/>
<text x="59.5" y="971.00" font-size="21.5" fill="#474747" text-anchor="end">35</text>
<text x="59.5" y="884.74" font-size="21.5" fill="#474747" text-anchor="end">40</text>
<text x="59.5" y="798.48" font-size="21.5" fill="#474747" text-anchor="end">45</text>
<text x="59.5" y="712.22" font-size="21.5" fill="#474747" text-anchor="end">50</text>
<text x="59.5" y="625.96" font-size="21.5" fill="#474747" text-anchor="end">55</text>
<text x="59.5" y="539.70" font-size="21.5" fill="#474747" text-anchor="end">60</text>
<path d="M64.5,963.30h6M495.3,963.30h-6M64.5,877.04h6M495.3,877.04h-6M64.5,790.78h6M495.3,790.78h-6M64.5,704.52h6M495.3,704.52h-6M64.5,618.26h6M495.3,618.26h-6M64.5,532.00h6M495.3,532.00h-6M144.2,963.3v-6M144.2,532.0v6M224.2,963.3v-6M224.2,532.0v6M304.1,963.3v-6M304.1,532.0v6M384.0,963.3v-6M384.0,532.0v6M464.0,963.3v-6M464.0,532.0v6" stroke="#747474" stroke-width="1.3" fill="none"/>
<text transform="translate(19.5,747.6) rotate(-90)" font-size="21.5" fill="#474747" text-anchor="middle">Length (mm)</text>
<text x="72.5" y="573.8" font-size="21.5" fill="#000">40</text>
<text x="104" y="573.8" font-size="21.5" fill="#000" textLength="38.5" lengthAdjust="spacingAndGlyphs">mm</text>
<text x="321.0" y="954.3" font-size="21.5" fill="#000" text-anchor="middle" font-style="italic">x</text>
<text x="336.6" y="954.3" font-size="21.5" fill="#000" text-anchor="middle" dy="1.8">=</text>
<text x="369.8" y="954.3" font-size="21.5" fill="#000" text-anchor="middle">52.3</text>
<text x="400.7" y="954.3" font-size="21.5" fill="#000" text-anchor="middle">±</text>
<text x="427.6" y="954.3" font-size="21.5" fill="#000" text-anchor="middle">2.7</text>
<text x="467.1" y="954.3" font-size="21.5" fill="#000" text-anchor="middle" textLength="37" lengthAdjust="spacingAndGlyphs">mm</text>
<path d="M315.0,939.5h11.5" stroke="#000" stroke-width="1.6"/>
<clipPath id="c2"><rect x="64.5" y="1052.6" width="430.8" height="431.1"/></clipPath>
<g clip-path="url(#c2)">
<path d="M64.3,1267.5 C71.0,1260.6 77.6,1253.7 84.3,1247.0 C91.0,1240.4 97.6,1234.0 104.3,1228.2 C111.0,1222.4 117.6,1217.1 124.3,1212.3 C131.0,1207.5 137.6,1203.2 144.3,1199.3 C151.0,1195.4 157.6,1192.0 164.2,1189.0 C170.9,1186.1 177.5,1183.6 184.2,1181.6 C190.9,1179.6 197.5,1178.1 204.2,1177.2 C210.9,1176.3 217.5,1176.0 224.2,1176.3 C230.9,1176.6 237.5,1177.6 244.2,1179.0 C250.9,1180.4 257.5,1182.2 264.2,1184.3 C270.8,1186.4 277.5,1188.6 284.1,1190.7 C290.8,1192.8 297.4,1194.7 304.1,1196.1 C310.8,1197.5 317.4,1198.2 324.1,1198.6 C330.8,1199.0 337.4,1198.9 344.1,1198.6 C350.8,1198.3 357.4,1197.7 364.1,1197.0 C370.7,1196.3 377.4,1195.6 384.0,1194.8 C390.7,1194.0 397.3,1193.3 404.0,1192.6 C410.7,1191.9 417.3,1191.3 424.0,1190.6 C430.7,1189.9 437.3,1189.3 444.0,1188.5 C450.7,1187.7 457.3,1186.7 464.0,1185.5 C469.2,1184.5 474.4,1183.4 479.6,1182.2 C484.9,1180.9 490.1,1179.6 495.3,1178.3 L495.3,1284.4 C490.1,1285.7 484.9,1287.0 479.6,1288.1 C474.4,1289.2 469.2,1290.1 464.0,1290.6 C457.3,1291.2 450.7,1291.2 444.0,1290.7 C437.3,1290.2 430.7,1289.3 424.0,1288.2 C417.3,1287.1 410.7,1285.7 404.0,1284.3 C397.3,1282.8 390.7,1281.3 384.0,1279.7 C377.4,1278.1 370.7,1276.5 364.1,1274.8 C357.4,1273.0 350.8,1271.1 344.1,1269.0 C337.4,1266.8 330.8,1264.4 324.1,1262.1 C317.4,1259.8 310.8,1257.7 304.1,1256.0 C297.4,1254.3 290.8,1253.2 284.1,1252.3 C277.5,1251.4 270.8,1250.8 264.2,1250.3 C257.5,1249.8 250.9,1249.3 244.2,1248.8 C237.5,1248.4 230.9,1248.0 224.2,1247.6 C217.5,1247.2 210.9,1246.9 204.2,1246.8 C197.5,1246.7 190.9,1246.7 184.2,1247.2 C177.5,1247.7 170.9,1248.5 164.2,1249.6 C157.6,1250.8 151.0,1252.2 144.3,1253.8 C137.6,1255.4 131.0,1257.2 124.3,1259.0 C117.6,1260.7 111.0,1262.3 104.3,1263.5 C97.6,1264.7 91.0,1265.5 84.3,1266.1 C77.6,1266.7 71.0,1267.1 64.3,1267.5 Z" fill="#cfcfcf"/>
<path d="M64.3,1267.5 C71.0,1260.6 77.6,1253.7 84.3,1247.0 C91.0,1240.4 97.6,1234.0 104.3,1228.2 C111.0,1222.4 117.6,1217.1 124.3,1212.3 C131.0,1207.5 137.6,1203.2 144.3,1199.3 C151.0,1195.4 157.6,1192.0 164.2,1189.0 C170.9,1186.1 177.5,1183.6 184.2,1181.6 C190.9,1179.6 197.5,1178.1 204.2,1177.2 C210.9,1176.3 217.5,1176.0 224.2,1176.3 C230.9,1176.6 237.5,1177.6 244.2,1179.0 C250.9,1180.4 257.5,1182.2 264.2,1184.3 C270.8,1186.4 277.5,1188.6 284.1,1190.7 C290.8,1192.8 297.4,1194.7 304.1,1196.1 C310.8,1197.5 317.4,1198.2 324.1,1198.6 C330.8,1199.0 337.4,1198.9 344.1,1198.6 C350.8,1198.3 357.4,1197.7 364.1,1197.0 C370.7,1196.3 377.4,1195.6 384.0,1194.8 C390.7,1194.0 397.3,1193.3 404.0,1192.6 C410.7,1191.9 417.3,1191.3 424.0,1190.6 C430.7,1189.9 437.3,1189.3 444.0,1188.5 C450.7,1187.7 457.3,1186.7 464.0,1185.5 C469.2,1184.5 474.4,1183.4 479.6,1182.2 C484.9,1180.9 490.1,1179.6 495.3,1178.3" fill="none" stroke="#757575" stroke-width="3.2"/>
<path d="M64.3,1267.5 C71.0,1267.1 77.6,1266.7 84.3,1266.1 C91.0,1265.5 97.6,1264.7 104.3,1263.5 C111.0,1262.3 117.6,1260.7 124.3,1259.0 C131.0,1257.2 137.6,1255.4 144.3,1253.8 C151.0,1252.2 157.6,1250.8 164.2,1249.6 C170.9,1248.5 177.5,1247.7 184.2,1247.2 C190.9,1246.7 197.5,1246.7 204.2,1246.8 C210.9,1246.9 217.5,1247.2 224.2,1247.6 C230.9,1248.0 237.5,1248.4 244.2,1248.8 C250.9,1249.3 257.5,1249.8 264.2,1250.3 C270.8,1250.8 277.5,1251.4 284.1,1252.3 C290.8,1253.2 297.4,1254.3 304.1,1256.0 C310.8,1257.7 317.4,1259.8 324.1,1262.1 C330.8,1264.4 337.4,1266.8 344.1,1269.0 C350.8,1271.1 357.4,1273.0 364.1,1274.8 C370.7,1276.5 377.4,1278.1 384.0,1279.7 C390.7,1281.3 397.3,1282.8 404.0,1284.3 C410.7,1285.7 417.3,1287.1 424.0,1288.2 C430.7,1289.3 437.3,1290.2 444.0,1290.7 C450.7,1291.2 457.3,1291.2 464.0,1290.6 C469.2,1290.1 474.4,1289.2 479.6,1288.1 C484.9,1287.0 490.1,1285.7 495.3,1284.4" fill="none" stroke="#757575" stroke-width="3.2"/>
<path d="M64.3,1267.5 C71.0,1263.6 77.6,1259.7 84.3,1255.9 C91.0,1252.1 97.6,1248.4 104.3,1245.0 C111.0,1241.6 117.6,1238.4 124.3,1235.3 C131.0,1232.3 137.6,1229.2 144.3,1226.0 C151.0,1222.8 157.6,1219.5 164.2,1216.3 C170.9,1213.1 177.5,1210.0 184.2,1207.5 C190.9,1204.9 197.5,1202.9 204.2,1201.3 C210.9,1199.7 217.5,1198.7 224.2,1198.1 C230.9,1197.5 237.5,1197.5 244.2,1197.7 C250.9,1198.0 257.5,1198.5 264.2,1199.0 C270.8,1199.5 277.5,1200.1 284.1,1201.0 C290.8,1201.9 297.4,1203.2 304.1,1205.0 C310.8,1206.8 317.4,1209.3 324.1,1212.2 C330.8,1215.0 337.4,1218.3 344.1,1221.7 C350.8,1225.1 357.4,1228.7 364.1,1232.1 C370.7,1235.5 377.4,1238.7 384.0,1241.4 C390.7,1244.1 397.3,1246.2 404.0,1247.9 C410.7,1249.7 417.3,1251.2 424.0,1252.5 C430.7,1253.8 437.3,1255.1 444.0,1255.9 C450.7,1256.7 457.3,1257.0 464.0,1256.5 C469.2,1256.1 474.4,1255.2 479.6,1254.0 C484.9,1252.8 490.1,1251.4 495.3,1250.0" fill="none" stroke="#1c3582" stroke-width="3.0"/>
<path d="M64.3,1267.5 C71.0,1267.0 77.6,1266.6 84.3,1265.8 C91.0,1265.0 97.6,1263.8 104.3,1262.0 C111.0,1260.2 117.6,1257.7 124.3,1254.8 C131.0,1251.9 137.6,1248.7 144.3,1245.4 C151.0,1242.1 157.6,1238.8 164.2,1235.7 C170.9,1232.5 177.5,1229.6 184.2,1227.0 C190.9,1224.4 197.5,1222.3 204.2,1220.7 C210.9,1219.2 217.5,1218.3 224.2,1218.3 C230.9,1218.3 237.5,1219.2 244.2,1220.6 C250.9,1222.1 257.5,1224.2 264.2,1226.6 C270.8,1229.0 277.5,1231.7 284.1,1234.9 C290.8,1238.0 297.4,1241.5 304.1,1245.6 C310.8,1249.7 317.4,1254.2 324.1,1259.0 C330.8,1263.8 337.4,1268.8 344.1,1273.8 C350.8,1278.8 357.4,1283.7 364.1,1288.2 C370.7,1292.8 377.4,1297.0 384.0,1300.5 C390.7,1304.0 397.3,1306.9 404.0,1309.3 C410.7,1311.7 417.3,1313.5 424.0,1315.0 C430.7,1316.5 437.3,1317.6 444.0,1318.4 C450.7,1319.2 457.3,1319.7 464.0,1320.0 C469.2,1320.2 474.4,1320.4 479.6,1320.4 C484.9,1320.5 490.1,1320.5 495.3,1320.5" fill="none" stroke="#1c3582" stroke-width="3.0" stroke-dasharray="11.1 5.9"/>
<path d="M64.3,1267.5 C71.0,1261.0 77.6,1254.5 84.3,1248.2 C91.0,1241.9 97.6,1235.8 104.3,1230.0 C111.0,1224.2 117.6,1218.8 124.3,1214.0 C131.0,1209.1 137.6,1204.7 144.3,1201.0 C151.0,1197.3 157.6,1194.3 164.2,1192.0 C170.9,1189.7 177.5,1188.1 184.2,1187.4 C190.9,1186.7 197.5,1186.7 204.2,1187.1 C210.9,1187.6 217.5,1188.3 224.2,1189.0 C230.9,1189.7 237.5,1190.2 244.2,1191.0 C250.9,1191.9 257.5,1192.9 264.2,1194.6 C270.8,1196.3 277.5,1198.6 284.1,1200.9 C290.8,1203.3 297.4,1205.8 304.1,1207.8 C310.8,1209.8 317.4,1211.4 324.1,1213.0 C330.8,1214.5 337.4,1216.0 344.1,1217.9 C350.8,1219.8 357.4,1222.0 364.1,1224.5 C370.7,1227.0 377.4,1229.8 384.0,1232.6 C390.7,1235.4 397.3,1238.4 404.0,1241.1 C410.7,1243.8 417.3,1246.3 424.0,1248.3 C430.7,1250.3 437.3,1251.7 444.0,1252.3 C450.7,1252.9 457.3,1252.7 464.0,1251.5 C469.2,1250.5 474.4,1249.0 479.6,1247.1 C484.9,1245.1 490.1,1242.9 495.3,1240.7" fill="none" stroke="#128a3e" stroke-width="3.0"/>
<path d="M64.3,1267.5 C71.0,1264.4 77.6,1261.4 84.3,1258.4 C91.0,1255.3 97.6,1252.4 104.3,1249.6 C111.0,1246.8 117.6,1244.1 124.3,1241.7 C131.0,1239.3 137.6,1237.2 144.3,1235.4 C151.0,1233.7 157.6,1232.3 164.2,1231.2 C170.9,1230.2 177.5,1229.4 184.2,1228.9 C190.9,1228.4 197.5,1228.0 204.2,1227.9 C210.9,1227.7 217.5,1227.8 224.2,1227.9 C230.9,1228.0 237.5,1228.3 244.2,1228.7 C250.9,1229.0 257.5,1229.4 264.2,1229.7 C270.8,1230.0 277.5,1230.4 284.1,1230.5 C290.8,1230.7 297.4,1230.6 304.1,1230.3 C310.8,1230.0 317.4,1229.3 324.1,1228.5 C330.8,1227.7 337.4,1226.7 344.1,1225.6 C350.8,1224.6 357.4,1223.5 364.1,1222.3 C370.7,1221.2 377.4,1220.1 384.0,1218.9 C390.7,1217.7 397.3,1216.6 404.0,1215.3 C410.7,1214.1 417.3,1212.8 424.0,1211.4 C430.7,1210.0 437.3,1208.5 444.0,1207.2 C450.7,1205.9 457.3,1204.7 464.0,1204.0 C469.2,1203.4 474.4,1203.1 479.6,1203.0 C484.9,1202.8 490.1,1202.7 495.3,1202.7" fill="none" stroke="#128a3e" stroke-width="3.0" stroke-dasharray="11.1 5.9"/>
<path d="M64.3,1267.5 C71.0,1263.3 77.6,1259.2 84.3,1255.2 C91.0,1251.2 97.6,1247.4 104.3,1244.0 C111.0,1240.6 117.6,1237.5 124.3,1234.5 C131.0,1231.5 137.6,1228.6 144.3,1225.5 C151.0,1222.4 157.6,1219.1 164.2,1216.2 C170.9,1213.2 177.5,1210.6 184.2,1209.0 C190.9,1207.3 197.5,1206.6 204.2,1206.2 C210.9,1205.9 217.5,1205.8 224.2,1205.5 C230.9,1205.2 237.5,1204.6 244.2,1203.9 C250.9,1203.1 257.5,1202.3 264.2,1201.3 C270.8,1200.4 277.5,1199.3 284.1,1198.3 C290.8,1197.2 297.4,1196.0 304.1,1194.7 C307.4,1194.1 310.7,1193.4 314.1,1192.6 C317.4,1191.8 320.7,1191.0 324.0,1189.9 C327.4,1188.8 330.7,1187.6 334.1,1186.2 C337.4,1184.9 340.8,1183.5 344.1,1182.2 C347.4,1180.9 350.7,1179.6 354.1,1178.3 C357.4,1177.0 360.7,1175.7 364.0,1174.3 C367.3,1172.9 370.7,1171.4 374.0,1169.9 C377.3,1168.4 380.7,1166.8 384.0,1165.4 C387.3,1164.0 390.7,1162.6 394.0,1161.4 C397.3,1160.1 400.7,1158.9 404.0,1157.9 C407.3,1156.9 410.7,1155.9 414.0,1155.1 C417.3,1154.2 420.7,1153.5 424.0,1152.8 C427.3,1152.1 430.7,1151.5 434.0,1151.0 C437.3,1150.4 440.7,1149.8 444.0,1149.2 C448.3,1148.4 452.7,1147.5 457.0,1146.5 C461.3,1145.6 465.7,1144.7 470.0,1143.9 C474.2,1143.1 478.4,1142.4 482.6,1141.8 C486.9,1141.2 491.1,1140.6 495.3,1140.0" fill="none" stroke="#55ab3c" stroke-width="3.0"/>
<path d="M64.3,1267.5 C71.0,1259.9 77.6,1252.4 84.3,1245.1 C91.0,1237.8 97.6,1230.9 104.3,1224.5 C111.0,1218.1 117.6,1212.4 124.3,1206.9 C131.0,1201.4 137.6,1196.2 144.3,1190.9 C150.9,1185.7 157.5,1180.4 164.1,1175.3 C170.7,1170.2 177.3,1165.2 183.9,1160.6 C186.2,1159.0 188.5,1157.4 190.9,1155.9 C193.2,1154.5 195.5,1153.1 197.8,1151.9 C200.5,1150.5 203.1,1149.3 205.8,1148.3 C208.5,1147.4 211.1,1146.6 213.8,1146.0 C216.7,1145.4 219.6,1145.0 222.5,1144.8 C225.4,1144.7 228.3,1144.8 231.2,1145.1 C233.9,1145.4 236.7,1146.0 239.4,1146.8 C242.1,1147.7 244.9,1148.9 247.6,1150.5 C249.8,1151.8 252.0,1153.4 254.2,1155.1 C256.5,1156.9 258.7,1158.8 260.9,1160.8 C263.1,1162.8 265.2,1164.8 267.4,1166.8 C269.6,1168.8 271.7,1170.8 273.9,1172.7 C276.2,1174.7 278.5,1176.5 280.8,1178.3 C283.0,1180.0 285.3,1181.6 287.6,1183.0 C290.4,1184.7 293.1,1186.2 295.9,1187.5 C298.6,1188.8 301.4,1189.8 304.1,1190.7 C310.8,1192.8 317.4,1193.9 324.1,1194.2 C330.8,1194.6 337.4,1194.3 344.1,1193.8 C350.8,1193.3 357.4,1192.6 364.1,1191.7 C370.7,1190.8 377.4,1189.6 384.0,1188.3 C390.7,1187.0 397.3,1185.4 404.0,1183.8 C410.7,1182.1 417.3,1180.4 424.0,1178.7 C430.7,1177.0 437.3,1175.4 444.0,1173.8 C450.7,1172.2 457.3,1170.6 464.0,1169.0 C469.2,1167.8 474.4,1166.5 479.6,1165.3 C484.9,1164.0 490.1,1162.8 495.3,1161.5" fill="none" stroke="#55ab3c" stroke-width="3.0" stroke-dasharray="11.1 5.9"/>
<path d="M64.3,1267.5 C71.0,1261.5 77.6,1255.6 84.3,1250.1 C91.0,1244.7 97.6,1239.7 104.3,1235.7 C111.0,1231.7 117.6,1228.7 124.3,1226.5 C131.0,1224.3 137.6,1222.8 144.3,1221.9 C151.0,1221.0 157.6,1220.7 164.2,1220.9 C170.9,1221.1 177.5,1221.8 184.2,1223.1 C190.9,1224.4 197.5,1226.2 204.2,1228.2 C210.9,1230.2 217.5,1232.4 224.2,1234.3 C230.9,1236.2 237.5,1238.0 244.2,1239.6 C250.9,1241.2 257.5,1242.7 264.2,1244.1 C270.8,1245.5 277.5,1246.9 284.1,1248.1 C290.8,1249.2 297.4,1250.1 304.1,1250.6 C310.8,1251.1 317.4,1251.1 324.1,1250.7 C330.8,1250.4 337.4,1249.7 344.1,1248.7 C350.8,1247.7 357.4,1246.5 364.1,1245.2 C370.7,1243.9 377.4,1242.5 384.0,1241.4 C390.7,1240.3 397.3,1239.3 404.0,1238.4 C410.7,1237.5 417.3,1236.7 424.0,1235.8 C430.7,1234.9 437.3,1233.9 444.0,1233.0 C450.7,1232.0 457.3,1231.2 464.0,1230.6 C469.2,1230.1 474.4,1229.8 479.6,1229.6 C484.9,1229.4 490.1,1229.2 495.3,1229.1" fill="none" stroke="#969c38" stroke-width="3.0"/>
<path d="M64.3,1267.5 C71.0,1260.8 77.6,1254.1 84.3,1247.8 C91.0,1241.5 97.6,1235.6 104.3,1230.5 C111.0,1225.4 117.6,1221.1 124.3,1217.4 C131.0,1213.8 137.6,1210.9 144.3,1208.5 C151.0,1206.1 157.6,1204.3 164.2,1203.3 C170.9,1202.2 177.5,1201.9 184.2,1202.4 C190.9,1202.9 197.5,1204.4 204.2,1206.4 C210.9,1208.5 217.5,1211.1 224.2,1214.0 C230.9,1216.9 237.5,1220.1 244.2,1223.4 C250.9,1226.7 257.5,1230.1 264.2,1233.3 C270.8,1236.5 277.5,1239.6 284.1,1242.6 C290.8,1245.7 297.4,1248.8 304.1,1252.0 C310.8,1255.2 317.4,1258.6 324.1,1261.6 C330.8,1264.7 337.4,1267.3 344.1,1269.0 C350.8,1270.7 357.4,1271.5 364.1,1271.8 C370.7,1272.2 377.4,1272.1 384.0,1272.0 C390.7,1271.9 397.3,1271.9 404.0,1271.6 C410.7,1271.2 417.3,1270.5 424.0,1269.2 C430.7,1267.9 437.3,1265.9 444.0,1263.5 C450.7,1261.2 457.3,1258.6 464.0,1256.0 C469.2,1254.0 474.4,1252.0 479.6,1250.0 C484.9,1248.0 490.1,1246.0 495.3,1244.0" fill="none" stroke="#969c38" stroke-width="3.0" stroke-dasharray="11.1 5.9"/>
<path d="M64.3,1267.5 C71.0,1263.4 77.6,1259.2 84.3,1255.3 C91.0,1251.3 97.6,1247.5 104.3,1244.0 C111.0,1240.5 117.6,1237.4 124.3,1234.3 C131.0,1231.3 137.6,1228.3 144.3,1225.3 C151.0,1222.3 157.6,1219.2 164.2,1216.3 C170.9,1213.4 177.5,1210.7 184.2,1208.6 C190.9,1206.5 197.5,1204.8 204.2,1203.6 C210.9,1202.3 217.5,1201.4 224.2,1200.7 C230.9,1200.0 237.5,1199.4 244.2,1199.1 C250.9,1198.7 257.5,1198.6 264.2,1198.8 C270.8,1199.0 277.5,1199.4 284.1,1200.1 C290.8,1200.8 297.4,1201.7 304.1,1202.8 C310.8,1203.9 317.4,1205.2 324.1,1206.8 C330.8,1208.4 337.4,1210.3 344.1,1212.6 C350.8,1214.9 357.4,1217.7 364.1,1220.5 C370.7,1223.4 377.4,1226.4 384.0,1229.3 C390.7,1232.2 397.3,1234.9 404.0,1237.5 C410.7,1240.1 417.3,1242.5 424.0,1244.8 C430.7,1247.1 437.3,1249.1 444.0,1250.6 C450.7,1252.1 457.3,1252.9 464.0,1252.8 C469.2,1252.7 474.4,1251.9 479.6,1250.9 C484.9,1249.8 490.1,1248.5 495.3,1247.1" fill="none" stroke="#a23c8a" stroke-width="3.0"/>
<path d="M64.3,1267.5 C71.0,1270.9 77.6,1274.4 84.3,1277.5 C91.0,1280.6 97.6,1283.4 104.3,1285.5 C111.0,1287.6 117.6,1289.1 124.3,1290.0 C131.0,1290.9 137.6,1291.3 144.3,1291.1 C151.0,1290.9 157.6,1290.3 164.2,1289.4 C170.9,1288.6 177.5,1287.6 184.2,1286.8 C190.9,1286.0 197.5,1285.4 204.2,1284.9 C210.9,1284.4 217.5,1284.0 224.2,1283.7 C230.9,1283.4 237.5,1283.1 244.2,1283.0 C250.9,1282.8 257.5,1282.7 264.2,1282.8 C270.8,1282.9 277.5,1283.1 284.1,1283.4 C290.8,1283.7 297.4,1284.2 304.1,1284.8 C310.8,1285.4 317.4,1286.2 324.1,1287.0 C330.8,1287.9 337.4,1288.8 344.1,1289.7 C350.8,1290.6 357.4,1291.5 364.1,1292.3 C370.7,1293.0 377.4,1293.6 384.0,1294.0 C390.7,1294.4 397.3,1294.4 404.0,1294.3 C410.7,1294.1 417.3,1293.7 424.0,1293.0 C430.7,1292.3 437.3,1291.4 444.0,1290.4 C450.7,1289.5 457.3,1288.4 464.0,1287.5 C469.2,1286.8 474.4,1286.1 479.6,1285.5 C484.9,1284.9 490.1,1284.4 495.3,1283.8" fill="none" stroke="#a23c8a" stroke-width="3.0" stroke-dasharray="11.1 5.9"/>
<path d="M64.3,1267.5 C71.0,1263.6 77.6,1259.7 84.3,1256.0 C91.0,1252.3 97.6,1248.7 104.3,1245.5 C111.0,1242.3 117.6,1239.3 124.3,1236.6 C131.0,1233.8 137.6,1231.2 144.3,1228.6 C151.0,1226.0 157.6,1223.5 164.2,1221.2 C170.9,1218.9 177.5,1216.9 184.2,1215.4 C190.9,1213.9 197.5,1213.0 204.2,1212.5 C210.9,1211.9 217.5,1211.8 224.2,1211.9 C230.9,1212.0 237.5,1212.3 244.2,1213.0 C250.9,1213.7 257.5,1214.8 264.2,1216.3 C270.8,1217.8 277.5,1219.8 284.1,1221.7 C290.8,1223.7 297.4,1225.7 304.1,1227.2 C310.8,1228.7 317.4,1229.8 324.1,1230.7 C330.8,1231.7 337.4,1232.4 344.1,1233.3 C350.8,1234.2 357.4,1235.2 364.1,1236.1 C370.7,1237.1 377.4,1238.0 384.0,1238.6 C390.7,1239.3 397.3,1239.7 404.0,1239.9 C410.7,1240.1 417.3,1240.1 424.0,1240.0 C430.7,1239.9 437.3,1239.6 444.0,1239.1 C450.7,1238.7 457.3,1238.0 464.0,1237.2 C469.2,1236.5 474.4,1235.8 479.6,1234.9 C484.9,1234.1 490.1,1233.2 495.3,1232.3" fill="none" stroke="#000" stroke-width="3.2"/>
</g>
<rect x="64.5" y="1052.6" width="430.8" height="431.1" fill="none" stroke="#747474" stroke-width="1.3"/>
<text x="59.5" y="1491.40" font-size="21.5" fill="#474747" text-anchor="end">50</text>
<text x="59.5" y="1383.62" font-size="21.5" fill="#474747" text-anchor="end">55</text>
<text x="59.5" y="1275.85" font-size="21.5" fill="#474747" text-anchor="end">60</text>
<text x="59.5" y="1168.08" font-size="21.5" fill="#474747" text-anchor="end">65</text>
<text x="59.5" y="1060.30" font-size="21.5" fill="#474747" text-anchor="end">70</text>
<path d="M64.5,1483.70h6M495.3,1483.70h-6M64.5,1375.92h6M495.3,1375.92h-6M64.5,1268.15h6M495.3,1268.15h-6M64.5,1160.38h6M495.3,1160.38h-6M64.5,1052.60h6M495.3,1052.60h-6M144.2,1483.7v-6M144.2,1052.6v6M224.2,1483.7v-6M224.2,1052.6v6M304.1,1483.7v-6M304.1,1052.6v6M384.0,1483.7v-6M384.0,1052.6v6M464.0,1483.7v-6M464.0,1052.6v6" stroke="#747474" stroke-width="1.3" fill="none"/>
<text transform="translate(19.5,1268.2) rotate(-90)" font-size="21.5" fill="#474747" text-anchor="middle">Length (mm)</text>
<text x="72.5" y="1094.4" font-size="21.5" fill="#000">60</text>
<text x="104" y="1094.4" font-size="21.5" fill="#000" textLength="38.5" lengthAdjust="spacingAndGlyphs">mm</text>
<text x="316.0" y="1470.0" font-size="21.5" fill="#000" text-anchor="middle" font-style="italic">x</text>
<text x="331.9" y="1470.0" font-size="21.5" fill="#000" text-anchor="middle" dy="1.8">=</text>
<text x="363.5" y="1470.0" font-size="21.5" fill="#000" text-anchor="middle">61.7</text>
<text x="396.1" y="1470.0" font-size="21.5" fill="#000" text-anchor="middle">±</text>
<text x="428.7" y="1470.0" font-size="21.5" fill="#000" text-anchor="middle">2.48</text>
<text x="472.5" y="1470.0" font-size="21.5" fill="#000" text-anchor="middle" textLength="37" lengthAdjust="spacingAndGlyphs">mm</text>
<path d="M310.0,1455.2h11.5" stroke="#000" stroke-width="1.6"/>
<text x="184" y="1125.4" font-size="21.5" fill="#000">2003</text>
<text x="423.5" y="1125.2" font-size="21.5" fill="#000">2002</text>
<text x="164.5" y="1319.3" font-size="21.5" fill="#000">2007</text>
<text x="423.5" y="1351.9" font-size="21.5" fill="#000">1999</text>
<text x="64.3" y="1511.2" font-size="21.5" fill="#474747" text-anchor="middle">nov</text>
<text x="144.2" y="1511.2" font-size="21.5" fill="#474747" text-anchor="middle">dec</text>
<text x="224.2" y="1511.2" font-size="21.5" fill="#474747" text-anchor="middle">jan</text>
<text x="304.1" y="1511.2" font-size="21.5" fill="#474747" text-anchor="middle">feb</text>
<text x="384.0" y="1511.2" font-size="21.5" fill="#474747" text-anchor="middle">mar</text>
<text x="464.0" y="1511.2" font-size="21.5" fill="#474747" text-anchor="middle">apr</text>
<text x="280" y="1548.3" font-size="21.5" fill="#474747" text-anchor="middle">Month</text>
<path d="M542,1116.7H611.6" stroke="#1c3582" stroke-width="3.0"/>
<text x="624.2" y="1124.7" font-size="21.5" fill="#000">1998</text>
<path d="M542,1154.3h15m9.1,0h15m9.1,0h15" stroke="#1c3582" stroke-width="3.0"/>
<text x="624.2" y="1162.3" font-size="21.5" fill="#000">1999</text>
<path d="M542,1191.9H611.6" stroke="#128a3e" stroke-width="3.0"/>
<text x="624.2" y="1199.9" font-size="21.5" fill="#000">2000</text>
<path d="M542,1229.5h15m9.1,0h15m9.1,0h15" stroke="#128a3e" stroke-width="3.0"/>
<text x="624.2" y="1237.5" font-size="21.5" fill="#000">2001</text>
<path d="M542,1267.1H611.6" stroke="#55ab3c" stroke-width="3.0"/>
<text x="624.2" y="1275.1" font-size="21.5" fill="#000">2002</text>
<path d="M542,1304.7h15m9.1,0h15m9.1,0h15" stroke="#55ab3c" stroke-width="3.0"/>
<text x="624.2" y="1312.7" font-size="21.5" fill="#000">2003</text>
<path d="M542,1342.3H611.6" stroke="#969c38" stroke-width="3.0"/>
<text x="624.2" y="1350.3" font-size="21.5" fill="#000">2004</text>
<path d="M542,1379.9h15m9.1,0h15m9.1,0h15" stroke="#969c38" stroke-width="3.0"/>
<text x="624.2" y="1387.9" font-size="21.5" fill="#000">2005</text>
<path d="M542,1417.5H611.6" stroke="#a23c8a" stroke-width="3.0"/>
<text x="624.2" y="1425.5" font-size="21.5" fill="#000">2006</text>
<path d="M542,1455.1h15m9.1,0h15m9.1,0h15" stroke="#a23c8a" stroke-width="3.0"/>
<text x="624.2" y="1463.1" font-size="21.5" fill="#000">2007</text>
</svg></body></html>
